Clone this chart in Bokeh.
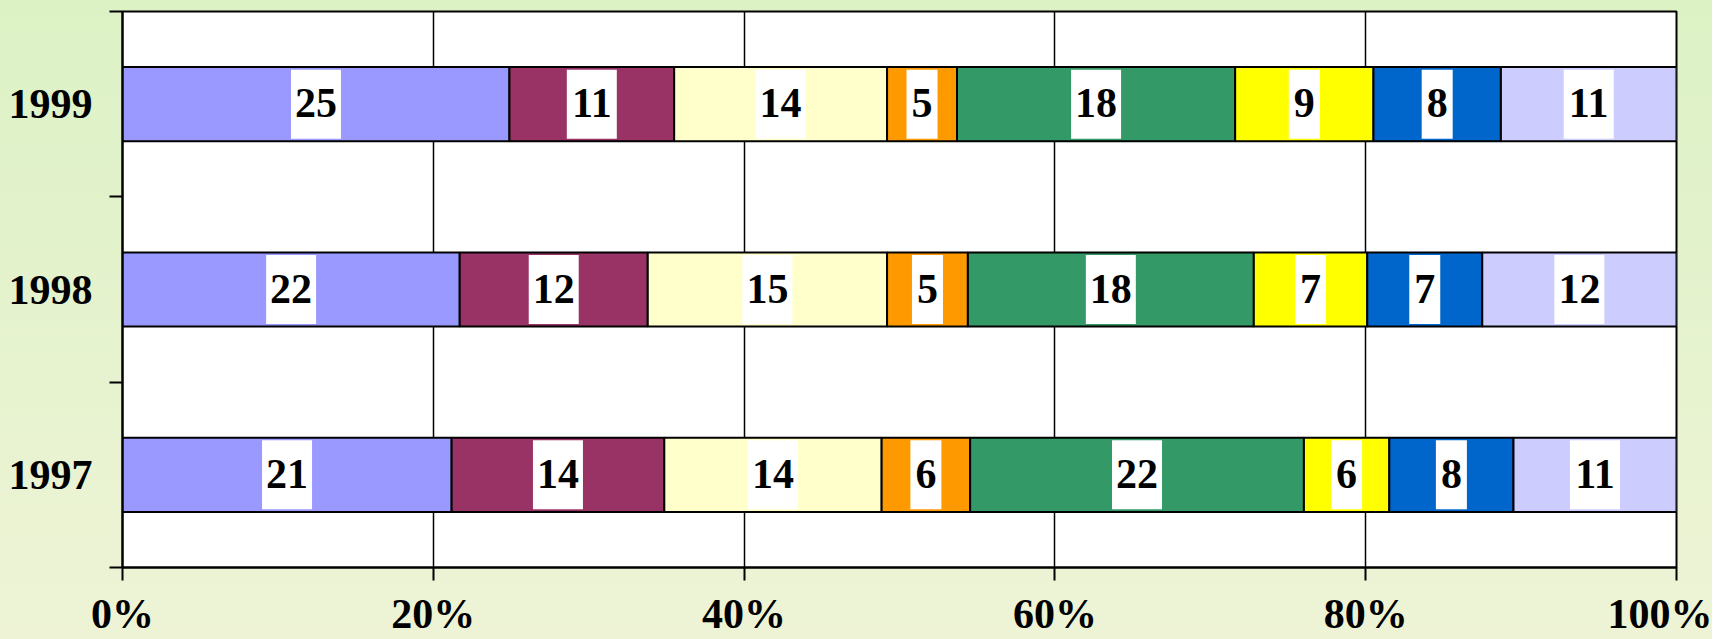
import numpy as np
from bokeh.plotting import figure
from bokeh.models import FixedTicker, ColumnDataSource
from bokeh.core.properties import value
from bokeh.embed import file_html
from bokeh.resources import INLINE

years = ["1997", "1998", "1999"]
colors = ["#9999FF", "#993366", "#FFFFCC", "#FF9900", "#339966", "#FFFF00", "#0066CC", "#CCCCFF"]

# segment widths (percent of row), one list per year
share_1997 = [21.2, 13.7, 14.0, 5.7, 21.5, 5.5, 8.0, 10.5]
share_1998 = [21.7, 12.1, 15.4, 5.2, 18.4, 7.3, 7.4, 12.5]
share_1999 = [24.9, 10.6, 13.7, 4.5, 17.9, 8.9, 8.2, 11.3]

# printed data labels
label_1997 = [21, 14, 14, 6, 22, 6, 8, 11]
label_1998 = [22, 12, 15, 5, 18, 7, 7, 12]
label_1999 = [25, 11, 14, 5, 18, 9, 8, 11]

x_ticks = [0, 20, 40, 60, 80, 100]
x_tick_labels = ["0%", "20%", "40%", "60%", "80%", "100%"]

shares = np.array([share_1997, share_1998, share_1999], dtype=float)
shares = shares / shares.sum(axis=1, keepdims=True) * 100.0
labels = [label_1997, label_1998, label_1999]
ypos = np.arange(len(years)) + 0.5

FONT = "Liberation Serif"
FSIZE = "42px"

p = figure(width=1712, height=639, x_range=(0, 100), y_range=(0, 3),
           output_backend="svg", toolbar_location=None,
           min_border_left=122, min_border_right=36, min_border_top=11, min_border_bottom=60)
p.border_fill_color = None
p.styles = {"background-image": "linear-gradient(#DCF2C5, #EEF3D6)"}
p.background_fill_color = "white"
p.outline_line_color = "black"
p.outline_line_width = 2

lefts = np.hstack([np.zeros((3, 1)), np.cumsum(shares, axis=1)[:, :-1]])
rights = np.cumsum(shares, axis=1)
bar_h = 0.4
for i, c in enumerate(colors):
    p.hbar(y=ypos, left=lefts[:, i], right=rights[:, i], height=bar_h,
           fill_color=c, line_color="black", line_width=2)

cx, cy, txt, wbox = [], [], [], []
for r in range(3):
    for i in range(len(colors)):
        cx.append((lefts[r, i] + rights[r, i]) / 2)
        cy.append(ypos[r])
        s = str(labels[r][i])
        txt.append(s)
        wbox.append(12 + 19 * len(s))
src = ColumnDataSource(dict(x=cx, y=cy, t=txt, w=wbox))
p.rect(x="x", y="y", width="w", height=0.372, width_units="screen",
       source=src, fill_color="white", line_color=None)
p.text(x="x", y="y", text="t", source=src, text_align="center", text_baseline="middle",
       text_font=value(FONT), text_font_style="bold", text_font_size=FSIZE,
       text_color="black", y_offset=-1)

p.xgrid.ticker = FixedTicker(ticks=x_ticks)
p.xgrid.grid_line_color = "black"
p.xgrid.grid_line_width = 1.5
p.ygrid.grid_line_color = None

p.xaxis.ticker = FixedTicker(ticks=x_ticks)
p.xaxis.major_label_overrides = {t: l for t, l in zip(x_ticks, x_tick_labels)}
p.yaxis.ticker = FixedTicker(ticks=list(ypos), minor_ticks=[0, 1, 2, 3])
p.yaxis.major_label_overrides = {float(y): l for y, l in zip(ypos, years)}

for ax in (p.xaxis[0], p.yaxis[0]):
    ax.axis_line_color = "black"
    ax.axis_line_width = 2
    ax.major_label_text_font = FONT
    ax.major_label_text_font_style = "bold"
    ax.major_label_text_font_size = FSIZE
    ax.major_label_text_color = "black"
    ax.major_tick_line_color = "black"
    ax.major_tick_line_width = 2
    ax.minor_tick_line_color = "black"
    ax.minor_tick_line_width = 2
    ax.major_tick_in = 0
    ax.minor_tick_in = 0

p.xaxis.major_tick_out = 13
p.xaxis.minor_tick_out = 0
p.xaxis.major_label_standoff = 10
p.yaxis.major_tick_out = 0
p.yaxis.minor_tick_out = 13
p.yaxis.major_label_standoff = 17

open("out.html", "w").write(file_html(p, INLINE))
